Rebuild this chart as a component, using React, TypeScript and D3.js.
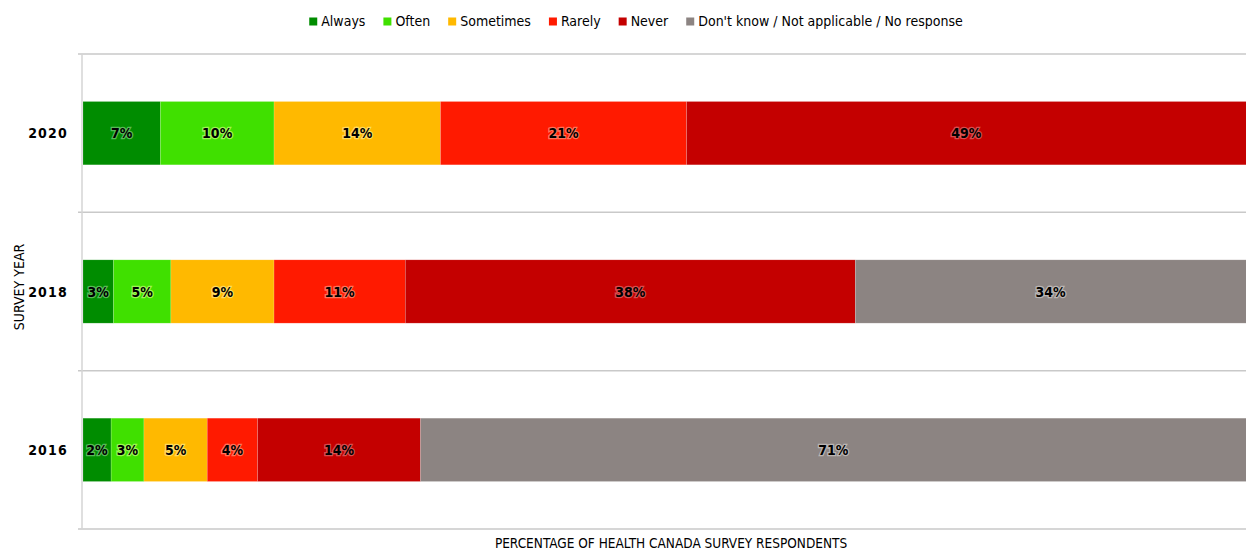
import React, { useEffect, useRef } from "react";
import * as d3 from "d3";

const years = ["2020", "2018", "2016"];
const categories = ["Always", "Often", "Sometimes", "Rarely", "Never", "Don't know / Not applicable / No response"];
const colors = ["#008C00", "#40E000", "#FFB900", "#FF1A00", "#C40000", "#8C8482"];
const glows = ["#7fd07f", "#c8ff7a", "#ffe98a", "#ff9a80", "#e07070", "#d0ccca"];
const always = [6.6, 2.6, 2.4];
const often = [9.7, 4.9, 2.8];
const sometimes = [14.2, 8.8, 5.4];
const rarely = [21.0, 11.2, 4.3];
const never = [48.5, 38.4, 13.9];
const dontKnow = [0, 34.1, 71.2];
const xTitle = "PERCENTAGE OF HEALTH CANADA SURVEY RESPONDENTS";
const yTitle = "SURVEY YEAR";

const W = 1246;
const H = 550;
const FONT = "'DejaVu Sans Condensed', 'Liberation Sans', sans-serif";

export default function App() {
  const legendRef = useRef<SVGGElement>(null);
  const series = [always, often, sometimes, rarely, never, dontKnow];
  const margin = { left: 83, top: 54, bottom: 529 };
  const x = d3.scaleLinear().domain([0, 100]).range([margin.left, 1255]);
  const y = d3.scaleBand<string>().domain(years).range([margin.top, margin.bottom]).paddingInner(0.6).paddingOuter(0.3);
  const step = y.step();
  const gridYs = d3.range(years.length + 1).map((i) => margin.top + i * step);

  const rows = years.map((yr, i) => {
    const vals = series.map((s) => s[i]);
    const cum = d3.cumsum(vals);
    return vals.map((v, k) => ({ yr, k, v, x0: cum[k] - v, x1: cum[k] }));
  });

  useEffect(() => {
    const g = d3.select(legendRef.current);
    g.selectAll("*").remove();
    const items = g.selectAll("g").data(categories).join("g");
    items.append("rect").attr("width", 8).attr("height", 8).attr("y", -8.5).attr("fill", (_d, i) => colors[i]);
    items
      .append("text")
      .attr("x", 12)
      .attr("y", 0)
      .attr("font-family", FONT)
      .attr("font-size", 14)
      .attr("fill", "#000")
      .text((d) => d);
    let pos = 0;
    const gap = 18;
    items.each(function () {
      const t = (d3.select(this).select("text").node() as SVGTextElement).getComputedTextLength();
      d3.select(this).attr("transform", `translate(${pos},0)`);
      pos += 12 + t + gap;
    });
    const total = pos - gap;
    g.attr("transform", `translate(${636 - total / 2},26)`);
  }, []);

  return (
    <svg width={W} height={H} style={{ position: "absolute", left: 0, top: 0, background: "#fff" }}>
      {gridYs.map((gy, i) => (
        <line key={i} x1={78} x2={W} y1={gy} y2={gy} stroke="#c9c9c9" strokeWidth={1.5} />
      ))}
      <line x1={82} x2={82} y1={margin.top} y2={margin.bottom} stroke="#d4d4d4" strokeWidth={1.5} />
      {rows.map((segs) =>
        segs.map((s) =>
          s.v > 0 ? (
            <rect
              key={s.yr + s.k}
              x={x(s.x0)}
              y={y(s.yr)}
              width={x(s.x1) - x(s.x0)}
              height={y.bandwidth()}
              fill={colors[s.k]}
              stroke="rgba(255,255,255,0.25)"
              strokeWidth={0.6}
            />
          ) : null
        )
      )}
      {rows.map((segs) =>
        segs.map((s) =>
          s.v > 0 ? (
            <text
              key={"t" + s.yr + s.k}
              x={(x(s.x0) + Math.min(x(s.x1), W)) / 2}
              y={(y(s.yr) as number) + y.bandwidth() / 2 + 5}
              textAnchor="middle"
              fontFamily={FONT}
              fontWeight="bold"
              fontSize={14}
              fill="#000"
              stroke={glows[s.k]}
              strokeWidth={2.5}
              strokeOpacity={0.7}
              style={{ paintOrder: "stroke" }}
            >
              {Math.round(s.v) + "%"}
            </text>
          ) : null
        )
      )}
      {years.map((yr) => (
        <text
          key={"y" + yr}
          x={68}
          y={(y(yr) as number) + y.bandwidth() / 2 + 5}
          textAnchor="end"
          fontFamily={FONT}
          fontWeight="bold"
          fontSize={14}
          letterSpacing={1.2}
          fill="#000"
        >
          {yr}
        </text>
      ))}
      <text
        transform={`translate(24,287) rotate(-90)`}
        textAnchor="middle"
        fontFamily={FONT}
        fontSize={14}
        fill="#000"
      >
        {yTitle}
      </text>
      <text x={671} y={548} textAnchor="middle" fontFamily={FONT} fontSize={13.5} fill="#000">
        {xTitle}
      </text>
      <g ref={legendRef} />
    </svg>
  );
}
